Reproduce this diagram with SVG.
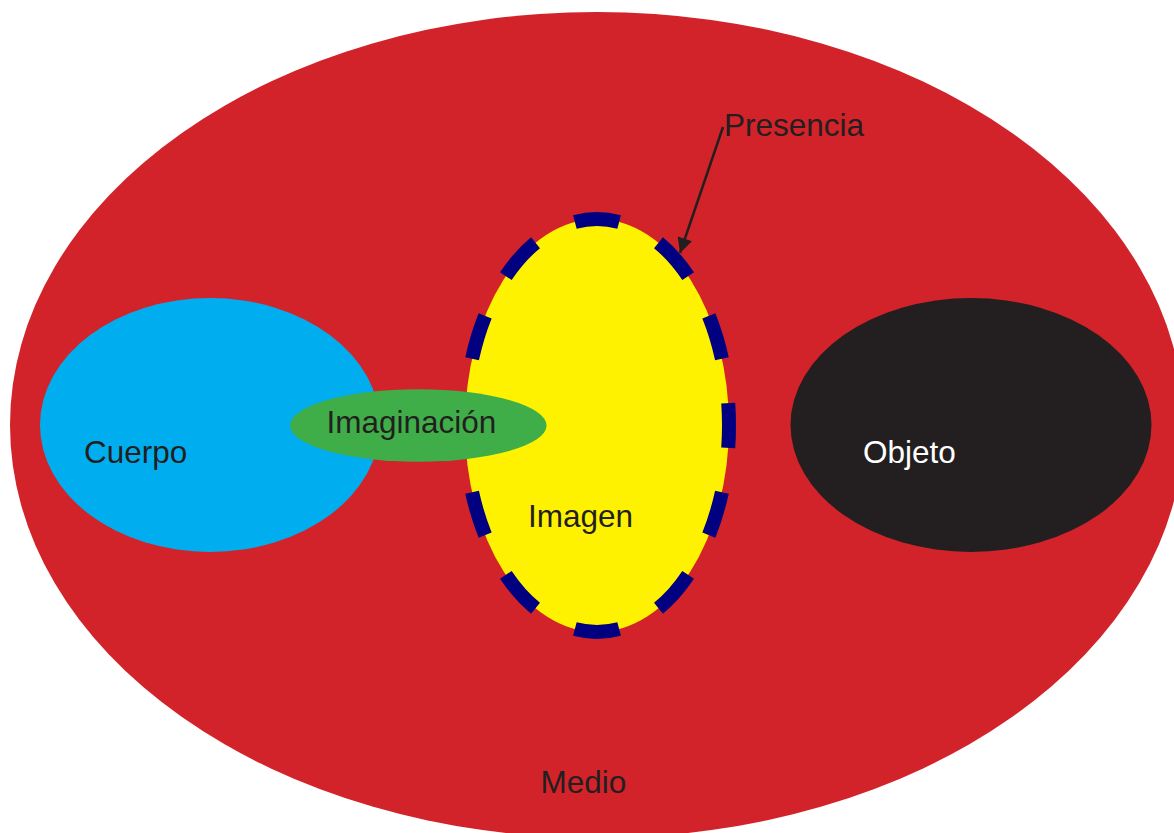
<svg xmlns="http://www.w3.org/2000/svg" width="1174" height="833" viewBox="0 0 1174 833">
<style>
text{font-family:"Liberation Sans",Arial,sans-serif;font-size:31.5px;fill:#231f20}
.w{fill:#ffffff}
</style>
<defs>
<marker id="ah" viewBox="0 0 10 10" refX="10" refY="5" markerWidth="6.5" markerHeight="6" orient="auto" markerUnits="strokeWidth">
<path d="M0,0 L10,5 L0,10 z" fill="#231f20"/>
</marker>
</defs>
<rect width="1174" height="833" fill="#ffffff"/>
<g id="medio">
<ellipse cx="597" cy="425" rx="587" ry="413" fill="#d2232a"/>
<text x="540.5" y="793">Medio</text>
</g>
<g id="cuerpo">
<ellipse cx="210" cy="425" rx="170" ry="127" fill="#00aeef"/>
<text x="84" y="463">Cuerpo</text>
</g>
<g id="objeto">
<ellipse cx="971" cy="425" rx="180.5" ry="127" fill="#231f20"/>
<text class="w" x="863" y="463">Objeto</text>
</g>
<g id="imagen">
<ellipse cx="597" cy="425.5" rx="132" ry="206.5" fill="#fff200" stroke="#000080" stroke-width="14" pathLength="1080" stroke-dasharray="45 45" stroke-dashoffset="22.5"/>
<text x="528" y="527">Imagen</text>
</g>
<g id="imaginacion">
<ellipse cx="418.3" cy="425.5" rx="128.3" ry="36.2" fill="#3fae49"/>
<text x="326.5" y="433">Imaginación</text>
</g>
<g id="presencia">
<text x="724" y="136">Presencia</text>
</g>
<g id="connectors">
<line x1="723" y1="127" x2="680" y2="253" stroke="#231f20" stroke-width="2.5" marker-end="url(#ah)"/>
</g>
</svg>
